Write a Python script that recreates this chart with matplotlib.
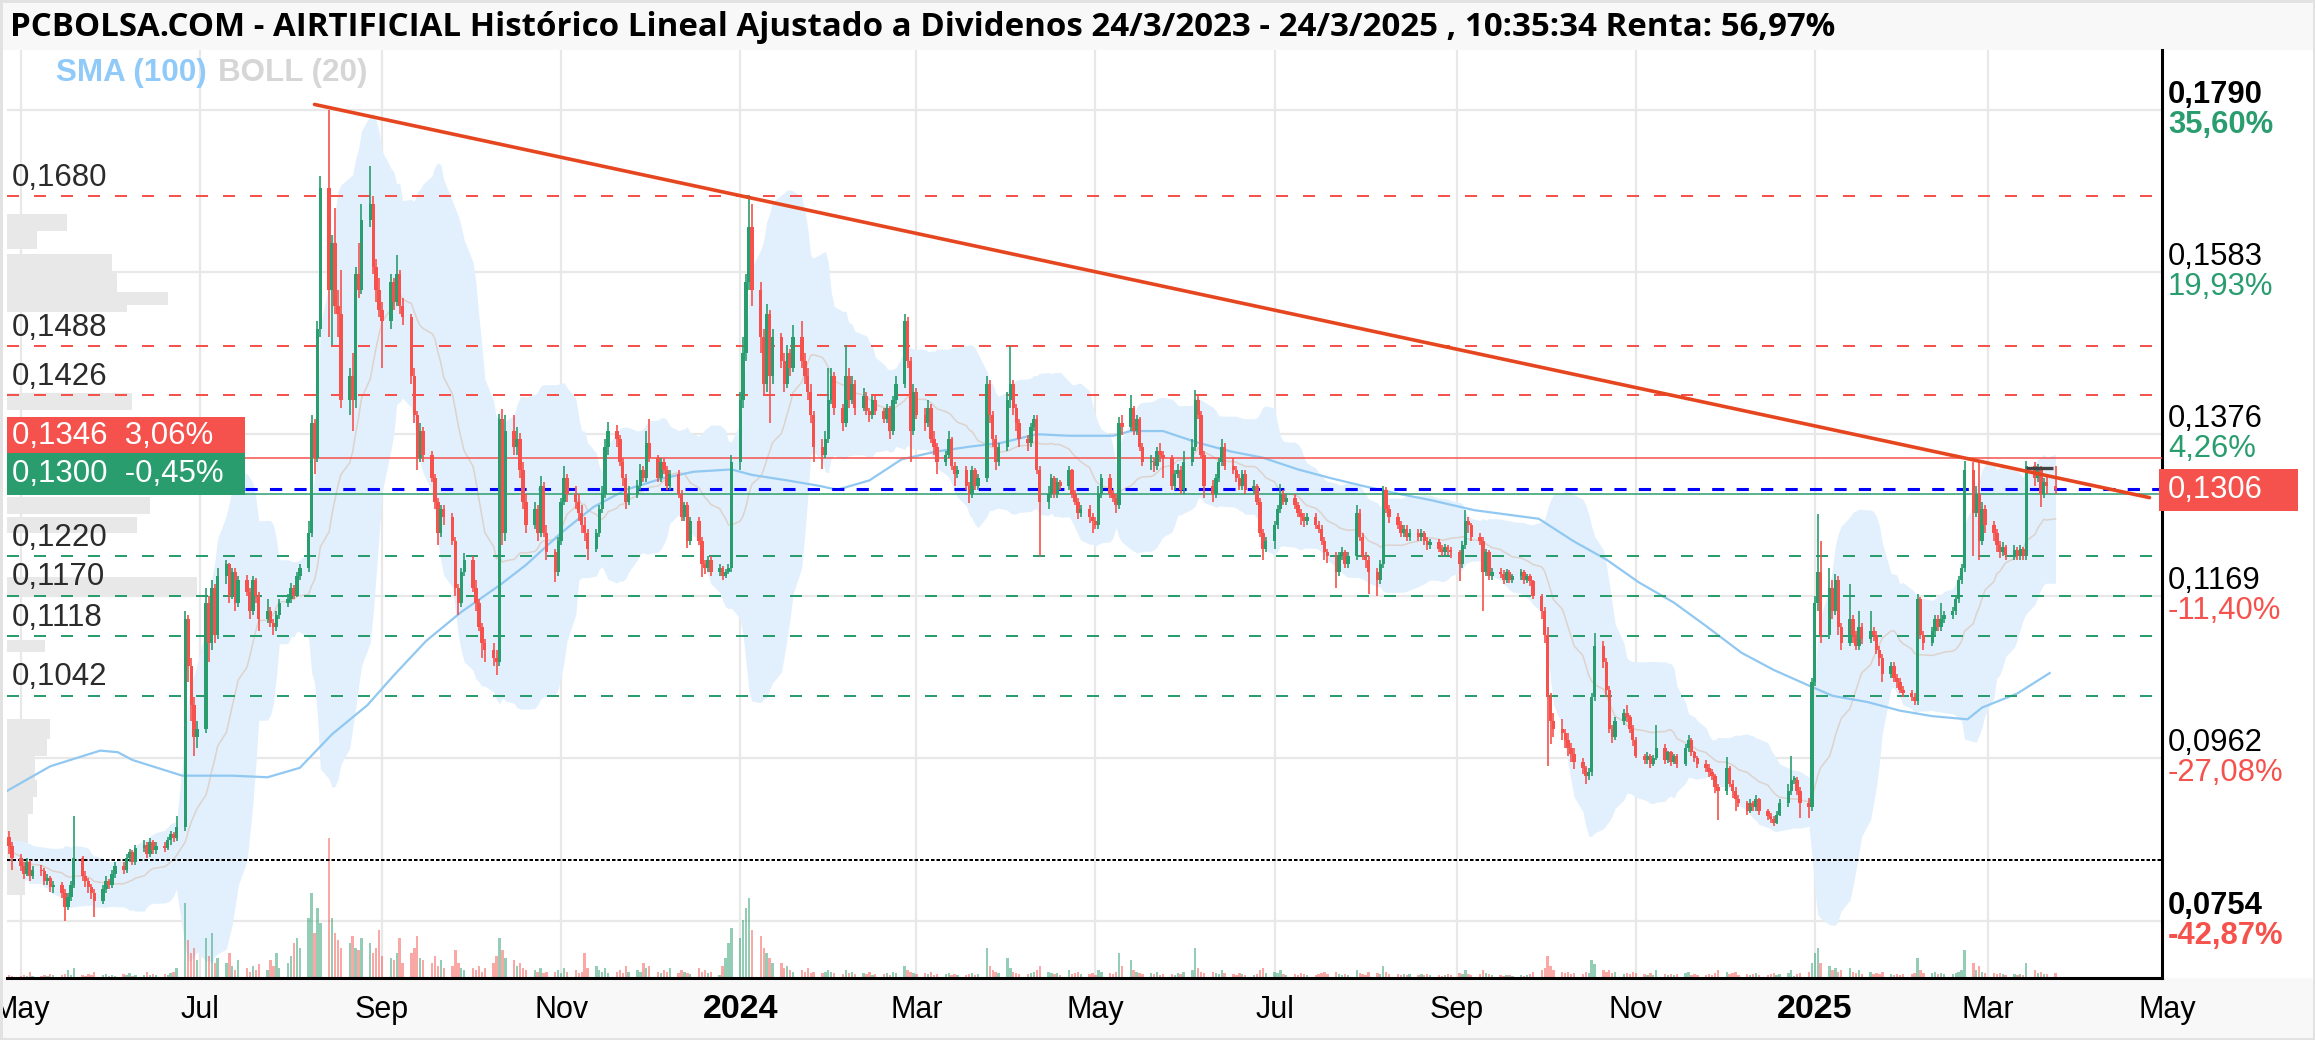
import numpy as np
import pandas as pd
import matplotlib
matplotlib.use("Agg")
import matplotlib.pyplot as plt
import matplotlib.dates as mdates
from matplotlib.patches import Rectangle
from matplotlib.transforms import blended_transform_factory as blend

plt.rcParams['font.family'] = ['Liberation Sans', 'DejaVu Sans']

# === 1. Datos diarios (precio x 10000); apertura = cierre anterior ===
open0 = 862
close = [
    850, 835,
    825, 815, 830, 812, 820,  818, 805, 810, 798, 800,  790, 772, 785, 800, 835,  812, 805, 798, 790, 780,
    795, 805, 800, 815, 825,  820, 835, 842, 830, 848,  852, 840, 855, 845, 850,  848, 858, 865, 860, 875,
    1140, 1080, 1030, 990, 1000,  1160, 1110, 1180, 1120, 1195,  1210, 1170, 1200, 1160, 1190,  1175, 1150, 1190, 1170, 1140,
    1150, 1135, 1130, 1145, 1160,  1165, 1180, 1170, 1195, 1205,  1250, 1390, 1345, 1510, 1690,  1560, 1620, 1540, 1530, 1420,
    1450, 1420, 1580, 1560, 1650,  1670, 1590, 1560, 1535, 1520,  1570, 1545, 1580, 1540, 1525,  1450, 1400, 1345, 1380, 1350,
    1320, 1290, 1250, 1280, 1270,  1240, 1180, 1160, 1200, 1215,  1180, 1160, 1130, 1110, 1100,  1090, 1085, 1395, 1250, 1380,
    1360, 1370, 1330, 1290, 1260,  1280, 1250, 1310, 1250, 1225,  1200, 1240, 1290, 1320, 1300,  1290, 1275, 1260, 1250, 1230,
    1250, 1280, 1300, 1360, 1380,  1370, 1340, 1320, 1290, 1300,  1310, 1330, 1320, 1365, 1345,  1320, 1340, 1330, 1310, 1325,
    1300, 1270, 1285, 1240, 1265,  1240, 1210, 1205, 1215, 1200,  1205, 1195, 1200, 1205, 1340,
    1420, 1480, 1570, 1640, 1560,  1500, 1440, 1530, 1450, 1500,  1470, 1440, 1480, 1460, 1500,  1470, 1450, 1430, 1400, 1360,
    1350, 1370, 1420, 1450, 1410,  1390, 1450, 1420, 1440, 1410,  1425, 1405, 1400, 1420, 1405,  1395, 1410, 1380, 1420, 1440,
    1520, 1470, 1380, 1430, 1400,  1390, 1410, 1370, 1360, 1340,  1350, 1370, 1335, 1325, 1330,  1310, 1300, 1330, 1310, 1320,
    1440, 1400, 1370, 1340, 1360,  1420, 1440, 1410, 1390, 1370,  1365, 1385, 1395, 1330, 1290,  1300, 1320, 1300, 1315, 1310,
    1330, 1300, 1290, 1275, 1280,  1270, 1265, 1260, 1300, 1320,  1300, 1295, 1285, 1390, 1385,  1410, 1380, 1395, 1360, 1340,
    1340, 1335, 1355, 1350, 1345,  1310, 1325, 1330, 1305, 1340,  1360, 1420, 1400, 1350, 1310,  1300, 1320, 1340, 1360, 1335,
    1330, 1320, 1310, 1325, 1305,  1310, 1290, 1250, 1230, 1240,  1260, 1280, 1300, 1290, 1295,  1285, 1275, 1270, 1265, 1270,
    1260, 1255, 1240, 1225, 1220,  1200, 1220, 1225, 1210, 1220,  1275, 1245, 1220, 1215, 1200,  1190, 1210, 1305, 1280, 1270,
    1260, 1250, 1255, 1245, 1250,  1245, 1250, 1240, 1235, 1238,  1230, 1225, 1232, 1228, 1225,  1210, 1235, 1265, 1260, 1245,
    1240, 1200, 1225, 1195, 1200,  1198, 1190, 1200, 1190, 1195,  1200, 1190, 1195, 1188, 1170,  1150, 1120, 1040, 1010, 1000,
    995, 985, 975, 968, 958,  950, 940, 945, 1040, 1105,  1085, 1050, 1000, 990, 1010,  1020, 1015, 1000, 985, 965,
    960, 965, 955, 963, 975,  960, 970, 958, 965, 955,  975, 985, 970, 962, 955,  950, 945, 940, 925, 920,
    950, 930, 920, 910, 905,  895, 905, 900, 910, 895,  888, 885, 880, 890, 905,  920, 935, 935, 920, 905,
    900, 1060, 1160, 1200, 1120,  1180, 1150, 1190, 1130, 1110,  1140, 1120, 1105, 1130, 1115,  1125, 1120, 1100, 1090, 1070,
    1080, 1065, 1060, 1050, 1045,  1040, 1035, 1165, 1120, 1110,  1125, 1140, 1130, 1140, 1145,  1150, 1165, 1190, 1205, 1330,
    1275, 1300, 1240, 1280, 1260,  1250, 1235, 1225, 1232, 1222,  1228, 1220, 1230, 1220, 1335,  1320, 1330, 1300, 1315, 1310,
    1306,
]
high = [
    870, 855,
    840, 830, 835, 832, 825,  826, 822, 815, 812, 806,  804, 795, 790, 806, 889,  838, 818, 810, 802, 795,
    800, 812, 808, 820, 830,  830, 840, 846, 845, 852,  858, 855, 860, 858, 855,  855, 862, 870, 868, 888,
    1150, 1145, 1090, 1040, 1010,  1180, 1170, 1190, 1185, 1205,  1216, 1212, 1205, 1205, 1195,  1196, 1180, 1195, 1192, 1175,
    1165, 1155, 1140, 1150, 1165,  1172, 1186, 1183, 1200, 1210,  1265, 1400, 1395, 1520, 1705,  1790, 1630, 1665, 1560, 1585,
    1460, 1480, 1590, 1620, 1670,  1718, 1680, 1600, 1575, 1545,  1580, 1575, 1605, 1585, 1550,  1530, 1460, 1405, 1390, 1385,
    1355, 1325, 1295, 1285, 1285,  1275, 1245, 1185, 1205, 1224,  1220, 1190, 1165, 1135, 1115,  1110, 1100, 1402, 1408, 1400,
    1400, 1385, 1378, 1340, 1300,  1290, 1285, 1322, 1315, 1260,  1230, 1245, 1295, 1335, 1325,  1310, 1300, 1285, 1270, 1255,
    1255, 1285, 1310, 1370, 1392,  1388, 1375, 1345, 1325, 1310,  1318, 1338, 1335, 1380, 1395,  1350, 1345, 1345, 1335, 1330,
    1330, 1305, 1290, 1290, 1270,  1270, 1245, 1215, 1220, 1220,  1210, 1208, 1204, 1210, 1350,
    1430, 1500, 1580, 1681, 1670,  1570, 1510, 1542, 1535, 1510,  1505, 1480, 1490, 1485, 1515,  1520, 1480, 1460, 1440, 1405,
    1370, 1380, 1460, 1460, 1455,  1415, 1490, 1460, 1450, 1445,  1435, 1430, 1410, 1425, 1425,  1410, 1415, 1412, 1425, 1450,
    1530, 1525, 1475, 1440, 1435,  1410, 1420, 1415, 1380, 1365,  1355, 1380, 1372, 1340, 1335,  1335, 1315, 1335, 1333, 1325,
    1450, 1445, 1405, 1375, 1365,  1430, 1488, 1445, 1415, 1395,  1375, 1390, 1400, 1400, 1335,  1310, 1325, 1322, 1320, 1318,
    1335, 1332, 1305, 1295, 1285,  1285, 1275, 1270, 1310, 1325,  1325, 1305, 1300, 1398, 1400,  1426, 1412, 1400, 1398, 1365,
    1350, 1345, 1360, 1365, 1355,  1350, 1330, 1338, 1335, 1355,  1370, 1433, 1425, 1405, 1355,  1318, 1325, 1345, 1370, 1365,
    1345, 1335, 1325, 1330, 1330,  1318, 1312, 1295, 1255, 1245,  1265, 1285, 1312, 1305, 1300,  1300, 1290, 1280, 1275, 1275,
    1275, 1265, 1260, 1245, 1230,  1225, 1225, 1232, 1228, 1225,  1285, 1280, 1250, 1225, 1220,  1205, 1215, 1310, 1308, 1285,
    1275, 1265, 1260, 1260, 1255,  1255, 1255, 1252, 1245, 1242,  1242, 1235, 1236, 1235, 1232,  1228, 1240, 1279, 1270, 1262,
    1250, 1245, 1230, 1228, 1205,  1205, 1202, 1204, 1202, 1198,  1204, 1202, 1198, 1198, 1190,  1172, 1155, 1130, 1045, 1020,
    1012, 1000, 995, 982, 975,  962, 952, 950, 1045, 1122,  1112, 1090, 1055, 1005, 1015,  1025, 1030, 1018, 1005, 990,
    968, 970, 968, 966, 1005,  980, 972, 972, 968, 968,  980, 992, 988, 972, 965,  960, 955, 948, 942, 930,
    964, 952, 935, 925, 915,  908, 910, 908, 915, 912,  898, 892, 888, 895, 910,  930, 965, 940, 938, 925,
    912, 1065, 1170, 1274, 1240,  1205, 1190, 1198, 1195, 1135,  1185, 1145, 1125, 1150, 1135,  1150, 1130, 1125, 1105, 1095,
    1085, 1085, 1070, 1065, 1055,  1050, 1045, 1172, 1168, 1125,  1130, 1145, 1145, 1160, 1150,  1155, 1170, 1195, 1210, 1342,
    1340, 1310, 1342, 1290, 1285,  1265, 1255, 1240, 1238, 1235,  1235, 1232, 1235, 1232, 1342,  1340, 1338, 1335, 1320, 1325,
    1335,
]
low = [
    840, 820,
    818, 808, 812, 805, 808,  812, 800, 800, 792, 790,  784, 755, 768, 780, 796,  805, 798, 790, 782, 759,
    776, 790, 795, 796, 810,  815, 816, 830, 826, 826,  842, 835, 836, 840, 840,  842, 845, 852, 855, 856,
    870, 1060, 1010, 965, 975,  995, 1085, 1100, 1110, 1115,  1185, 1160, 1165, 1150, 1155,  1170, 1140, 1145, 1160, 1125,
    1135, 1130, 1120, 1125, 1140,  1155, 1160, 1165, 1168, 1190,  1200, 1245, 1325, 1340, 1500,  1500, 1490, 1530, 1500, 1410,
    1400, 1380, 1410, 1550, 1555,  1640, 1580, 1545, 1525, 1460,  1510, 1535, 1540, 1530, 1515,  1440, 1390, 1330, 1340, 1340,
    1315, 1280, 1235, 1245, 1260,  1235, 1170, 1145, 1155, 1195,  1175, 1150, 1125, 1090, 1085,  1080, 1069, 1080, 1235, 1240,
    1350, 1350, 1320, 1280, 1250,  1255, 1240, 1245, 1245, 1215,  1187, 1195, 1235, 1285, 1290,  1280, 1265, 1250, 1240, 1216,
    1225, 1245, 1275, 1295, 1350,  1360, 1335, 1310, 1280, 1285,  1295, 1305, 1315, 1315, 1340,  1315, 1315, 1325, 1305, 1305,
    1295, 1265, 1265, 1231, 1235,  1235, 1194, 1198, 1200, 1195,  1195, 1190, 1192, 1198, 1200,
    1330, 1410, 1470, 1560, 1540,  1480, 1425, 1430, 1390, 1440,  1460, 1430, 1435, 1450, 1455,  1460, 1440, 1420, 1390, 1340,
    1331, 1345, 1365, 1415, 1400,  1380, 1385, 1410, 1415, 1400,  1405, 1400, 1392, 1395, 1400,  1390, 1390, 1370, 1375, 1415,
    1435, 1460, 1340, 1375, 1395,  1380, 1385, 1365, 1350, 1325,  1335, 1345, 1330, 1310, 1320,  1305, 1288, 1295, 1305, 1305,
    1315, 1390, 1360, 1330, 1335,  1355, 1410, 1400, 1380, 1360,  1355, 1360, 1380, 1325, 1220,  1280, 1295, 1295, 1295, 1305,
    1305, 1295, 1285, 1268, 1270,  1262, 1250, 1255, 1255, 1295,  1295, 1290, 1275, 1280, 1375,  1380, 1375, 1375, 1355, 1335,
    1330, 1328, 1330, 1340, 1320,  1305, 1305, 1320, 1300, 1300,  1335, 1355, 1395, 1345, 1295,  1290, 1295, 1315, 1335, 1330,
    1325, 1315, 1305, 1305, 1300,  1300, 1285, 1245, 1216, 1225,  1230, 1255, 1275, 1285, 1285,  1280, 1270, 1260, 1258, 1260,
    1255, 1250, 1235, 1216, 1212,  1180, 1195, 1215, 1205, 1205,  1215, 1240, 1215, 1205, 1172,  1170, 1185, 1205, 1275, 1262,
    1255, 1245, 1245, 1240, 1240,  1240, 1240, 1235, 1228, 1230,  1225, 1220, 1222, 1222, 1218,  1188, 1205, 1230, 1250, 1240,
    1235, 1150, 1195, 1190, 1190,  1192, 1185, 1186, 1186, 1186,  1190, 1185, 1186, 1182, 1165,  1140, 1110, 952, 980, 990,
    985, 975, 965, 958, 948,  942, 930, 935, 940, 1035,  1078, 1040, 995, 982, 985,  1005, 1008, 995, 978, 962,
    955, 955, 950, 952, 960,  955, 956, 952, 955, 950,  952, 970, 965, 958, 950,  945, 938, 935, 918, 883,
    915, 925, 912, 895, 900,  890, 892, 895, 895, 890,  884, 880, 876, 878, 888,  900, 915, 930, 915, 886,
    886, 895, 1055, 1150, 1110,  1115, 1140, 1145, 1120, 1100,  1105, 1110, 1100, 1100, 1108,  1110, 1112, 1095, 1080, 1060,
    1065, 1060, 1052, 1045, 1040,  1035, 1030, 1030, 1115, 1100,  1105, 1120, 1125, 1125, 1135,  1140, 1145, 1160, 1185, 1200,
    1220, 1270, 1215, 1235, 1250,  1240, 1225, 1218, 1220, 1215,  1215, 1215, 1216, 1215, 1215,  1310, 1315, 1283, 1295, 1300,
    1300,
]
# volumen (unidades relativas)
volume = [
    3, 2,
    2, 3, 2, 6, 2,  2, 3, 2, 4, 3,  3, 4, 8, 3, 10,  3, 2, 4, 3, 6,
    3, 4, 2, 3, 2,  4, 3, 5, 2, 3,  3, 6, 3, 4, 3,  4, 3, 5, 6, 10,
    75, 38, 25, 30, 18,  40, 22, 45, 15, 20,  15, 25, 12, 8, 18,  10, 6, 12, 8, 14,
    8, 18, 12, 25, 10,  15, 22, 35, 40, 30,  60, 85, 45, 70, 55,  140, 60, 45, 38, 30,
    35, 42, 30, 28, 40,  35, 25, 30, 48, 22,  20, 18, 25, 40, 15,  25, 30, 42, 20, 18,
    15, 22, 12, 18, 10,  12, 28, 15, 10, 8,  10, 8, 12, 6, 10,  15, 22, 40, 28, 20,
    18, 12, 15, 10, 8,  8, 6, 10, 5, 6,  6, 8, 5, 10, 6,  8, 5, 6, 25, 10,
    12, 8, 6, 10, 5,  6, 8, 5, 12, 6,  8, 6, 15, 10, 12,  6, 5, 8, 6, 10,
    5, 8, 6, 5, 4,  10, 6, 8, 5, 6,  3, 12, 20, 35, 50,
    40, 58, 70, 80, 48,  42, 30, 25, 20, 15,  15, 10, 12, 8, 6,  8, 6, 10, 5, 6,
    5, 6, 8, 6, 5,  4, 8, 5, 6, 4,  5, 4, 6, 3, 4,  4, 5, 3, 6, 5,
    12, 8, 6, 5, 4,  5, 4, 6, 3, 4,  4, 5, 3, 4, 3,  3, 4, 5, 3, 4,
    30, 12, 8, 6, 5,  20, 10, 6, 5, 4,  4, 5, 6, 8, 12,  6, 5, 4, 5, 3,
    8, 4, 5, 6, 4,  4, 5, 3, 8, 6,  5, 4, 6, 25, 12,  18, 8, 6, 5, 4,
    5, 4, 6, 3, 4,  4, 3, 5, 4, 6,  8, 30, 10, 6, 5,  6, 5, 4, 8, 5,
    4, 3, 5, 4, 3,  3, 4, 8, 10, 5,  6, 5, 8, 4, 3,  4, 3, 5, 4, 3,
    3, 4, 5, 6, 4,  6, 4, 3, 4, 3,  8, 5, 4, 3, 6,  5, 4, 12, 6, 4,
    4, 3, 4, 3, 4,  3, 4, 3, 4, 3,  3, 2, 3, 4, 3,  5, 4, 8, 4, 3,
    4, 8, 5, 4, 3,  3, 2, 3, 3, 2,  3, 2, 3, 4, 6,  8, 10, 22, 12, 8,
    6, 5, 6, 4, 5,  4, 6, 5, 18, 14,  8, 6, 8, 5, 6,  4, 5, 4, 6, 5,
    4, 3, 5, 3, 8,  4, 3, 4, 3, 4,  5, 6, 3, 4, 3,  3, 4, 3, 5, 8,
    6, 4, 5, 6, 3,  4, 3, 4, 5, 3,  3, 4, 5, 3, 4,  5, 8, 2, 4, 5,
    6, 15, 25, 30, 15,  12, 8, 10, 6, 8,  10, 6, 5, 8, 4,  6, 4, 5, 4, 6,
    4, 3, 4, 3, 4,  4, 5, 20, 8, 5,  5, 6, 4, 5, 4,  4, 5, 6, 8, 28,
    15, 8, 12, 6, 5,  5, 4, 5, 4, 3,  4, 3, 4, 3, 15,  8, 5, 6, 4, 4,
    5,
]

# === 2. SMA (100) ===
sma_dates = ['2023-04-26', '2023-05-11', '2023-05-28', '2023-06-03', '2023-06-08', '2023-06-25',
             '2023-07-12', '2023-07-24', '2023-08-04', '2023-08-15', '2023-08-27', '2023-09-05',
             '2023-09-16', '2023-09-28', '2023-10-11', '2023-10-20', '2023-11-01', '2023-11-12',
             '2023-11-23', '2023-12-05', '2023-12-16', '2023-12-29', '2024-01-05', '2024-01-17',
             '2024-01-28', '2024-02-03', '2024-02-14', '2024-02-25', '2024-03-08', '2024-03-19',
             '2024-03-30', '2024-04-11', '2024-04-22', '2024-05-07', '2024-05-13', '2024-05-24',
             '2024-06-05', '2024-06-16', '2024-06-27', '2024-07-09', '2024-07-20', '2024-07-31',
             '2024-08-12', '2024-08-23', '2024-09-07', '2024-09-29', '2024-10-11', '2024-10-22',
             '2024-11-02', '2024-11-14', '2024-11-25', '2024-12-07', '2024-12-18', '2024-12-30',
             '2025-01-07', '2025-01-19', '2025-01-30', '2025-02-10', '2025-02-22', '2025-02-27',
             '2025-03-11', '2025-03-22']
sma_vals = [0.0920, 0.0952, 0.0972, 0.0970, 0.0960, 0.0940, 0.0940, 0.0938, 0.0950, 0.0993,
            0.1030, 0.1068, 0.1112, 0.1149, 0.1183, 0.1209, 0.1250, 0.1283, 0.1305, 0.1319,
            0.1328, 0.1331, 0.1324, 0.1317, 0.1310, 0.1305, 0.1317, 0.1344, 0.1354, 0.1360,
            0.1365, 0.1376, 0.1374, 0.1374, 0.1380, 0.1380, 0.1365, 0.1354, 0.1346, 0.1331,
            0.1320, 0.1310, 0.1300, 0.1292, 0.1279, 0.1268, 0.1239, 0.1216, 0.1187, 0.1161,
            0.1131, 0.1097, 0.1075, 0.1055, 0.1042, 0.1034, 0.1023, 0.1016, 0.1012, 0.1027,
            0.1045, 0.1071]

# === 3. Niveles ===
resist_levels = [0.1680, 0.1488, 0.1426]
support_levels = [0.1220, 0.1170, 0.1118, 0.1042]
level_red, level_red_pct = 0.1346, '3,06%'
level_green, level_green_pct = 0.1300, '-0,45%'
last_price = 0.1306
start_price = 0.0832
axis_levels = [0.1790, 0.1583, 0.1376, 0.1169, 0.0962, 0.0754]
axis_pcts = ['35,60%', '19,93%', '4,26%', '-11,40%', '-27,08%', '-42,87%']
trend_dates = ['2023-08-09', '2025-04-25']
trend_prices = [0.1797, 0.1295]
marker_dates = ['2025-03-14', '2025-03-23']
marker_price = 0.1333

# perfil de volumen (izquierda): precio bajo, precio alto, longitud relativa
prof_lo = [0.16354, 0.16124, 0.15830, 0.15575, 0.15409, 0.15320, 0.14069, 0.12741, 0.12498, 0.11681,
           0.10979, 0.09869, 0.09652, 0.09345, 0.09128, 0.08911, 0.08541, 0.07877]
prof_hi = [0.16571, 0.16354, 0.16060, 0.15830, 0.15575, 0.15409, 0.14286, 0.12958, 0.12703, 0.11937,
           0.11132, 0.10124, 0.09869, 0.09652, 0.09345, 0.09128, 0.08911, 0.08541]
prof_len = [60, 30, 105, 110, 161, 120, 125, 143, 130, 190, 38, 43, 40, 28, 30, 26, 21, 18]

months = ['2023-05-01', '2023-07-01', '2023-09-01', '2023-11-01', '2024-01-01', '2024-03-01', '2024-05-01',
          '2024-07-01', '2024-09-01', '2024-11-01', '2025-01-01', '2025-03-01', '2025-05-01']
month_labels = ['May', 'Jul', 'Sep', 'Nov', '2024', 'Mar', 'May', 'Jul', 'Sep', 'Nov', '2025', 'Mar', 'May']

title = ('PCBOLSA.COM - AIRTIFICIAL Histórico Lineal Ajustado a Dividenos 24/3/2023 - 24/3/2025 , '
         '10:35:34 Renta: 56,97%')

GREEN = '#2a9d6f'
RED = '#f5524d'

# === 4. Figura ===
W, H = 2315, 1040
AX_L, AX_R, AX_T, AX_B = 7, 2161.7, 50, 978
fig = plt.figure(figsize=(W / 100, H / 100), dpi=100)
fig.patches.append(Rectangle((0, 1 - AX_T / H), 1, AX_T / H, transform=fig.transFigure,
                             facecolor='#f8f8f8', edgecolor='none', zorder=-5))
fig.patches.append(Rectangle((0, 0), 1, (H - AX_B) / H, transform=fig.transFigure,
                             facecolor='#f8f8f8', edgecolor='none', zorder=-5))
ax = fig.add_axes([AX_L / W, 1 - AX_B / H, (AX_R - AX_L) / W, (AX_B - AX_T) / H])

ymin, ymax = 0.06817, 0.18665
ppp = (AX_B - AX_T) / (ymax - ymin)          # pixeles por unidad de precio
px_day = 2.936
x0 = mdates.date2num(pd.Timestamp('2023-07-01'))
xmin, xmax = x0 - (200 - AX_L) / px_day, x0 + (AX_R - 200) / px_day
ax.set_xlim(xmin, xmax)
ax.set_ylim(ymin, ymax)

dates = pd.bdate_range('2023-04-27', '2025-03-24')
x = mdates.date2num(dates)
c = np.array(close) / 1e4
o = np.r_[open0, close[:-1]] / 1e4
h = np.maximum(np.array(high) / 1e4, np.maximum(o, c))
l = np.minimum(np.array(low) / 1e4, np.minimum(o, c))
col = np.where(c >= o, GREEN, RED)

# rejilla
for lv in axis_levels:
    ax.axhline(lv, color='#e8e8e8', lw=1.6, zorder=0)
for m in months:
    mx = mdates.date2num(pd.Timestamp(m))
    if xmin < mx < xmax:
        ax.axvline(mx, color='#e8e8e8', lw=1.6, zorder=0)

# perfil de volumen
for lo, hi, ln in zip(prof_lo, prof_hi, prof_len):
    ax.add_patch(Rectangle((xmin, lo), ln / px_day, hi - lo, facecolor='#e8e8e8',
                           edgecolor='none', zorder=0.5))

# Bollinger (20, 2) sobre los cierres
s = pd.Series(c)
mid = s.rolling(20, min_periods=1).mean()
sd = s.rolling(20, min_periods=1).std(ddof=0).fillna(0)
ax.fill_between(x, mid - 2 * sd, mid + 2 * sd, color='#e1f0fc', lw=0, zorder=1)
ax.plot(x, mid, color='#ddd2cc', lw=1.1, zorder=1.5)

# SMA 100
ax.plot(mdates.date2num(pd.to_datetime(sma_dates)), sma_vals, color='#90c8f2', lw=1.6, zorder=2)

# volumen
ax.bar(x, np.array(volume) / ppp, bottom=ymin, width=0.8, color=col, alpha=0.5, lw=0, zorder=2)

# niveles
for lv in resist_levels:
    ax.axhline(lv, color=RED, lw=1.44, ls=(0, (6, 7.5)), zorder=3)
for lv in support_levels:
    ax.axhline(lv, color=GREEN, lw=1.44, ls=(0, (6, 7.5)), zorder=3)
ax.axhline(start_price, color='black', lw=1.44, ls=(0, (1.75, 1.0)), zorder=3)
box_r = xmin + (245 - AX_L) / px_day
ax.hlines(level_red, box_r, xmax, color=RED, lw=1.1, zorder=3)
ax.hlines(level_green, box_r, xmax, color=GREEN, lw=1.1, zorder=3)
ax.hlines(last_price, box_r, xmax, color='#0000ff', lw=2.2, ls=(0, (4, 4)), zorder=3)

# velas
ax.vlines(x, l, h, colors=col, lw=1.2, zorder=4)
ax.bar(x, np.maximum(np.abs(c - o), 1.5 / ppp), bottom=np.minimum(o, c), width=1.15,
       color=col, lw=0, zorder=4)
ax.plot(mdates.date2num(pd.to_datetime(marker_dates)), [marker_price] * 2, color='#444444',
        lw=2.4, solid_capstyle='butt', zorder=4.5)

# linea de tendencia
ax.plot(mdates.date2num(pd.to_datetime(trend_dates)), trend_prices, color='#e6461f', lw=2.6,
        zorder=5, solid_capstyle='round')

# ejes
for side in ['left', 'top']:
    ax.spines[side].set_visible(False)
for side in ['right', 'bottom']:
    ax.spines[side].set_linewidth(2.2)
    ax.spines[side].set_color('black')
ax.set_xticks([])
ax.set_yticks([])

# etiquetas de meses
tr_x = blend(ax.transData, ax.transAxes)
for m, lab in zip(months, month_labels):
    bold = lab.isdigit()
    ax.text(mdates.date2num(pd.Timestamp(m)), -0.034, lab, transform=tr_x, ha='center', va='center',
            fontsize=24.5 if bold else 22, fontweight='bold' if bold else 'normal',
            color='black', clip_on=False)

# etiquetas de niveles (izquierda)
for lv in resist_levels + support_levels:
    ax.annotate(f'{lv:.4f}'.replace('.', ','), (xmin, lv), xytext=(3.5, 2.5),
                textcoords='offset points', ha='left', va='bottom', fontsize=22.5,
                color='#2b2b2b', zorder=6)

# cajas izquierda
fig.patches.append(Rectangle((AX_L / W, 1 - 453 / H), 238 / W, 36 / H, transform=fig.transFigure,
                             facecolor=RED, edgecolor='none', zorder=6))
fig.patches.append(Rectangle((AX_L / W, 1 - 495 / H), 238 / W, 42 / H, transform=fig.transFigure,
                             facecolor=GREEN, edgecolor='none', zorder=6))
fig.text(12 / W, 1 - 436 / H, f'{level_red:.4f}'.replace('.', ',') + '  ' + level_red_pct,
         color='white', fontsize=22.5, va='center', ha='left', zorder=7)
fig.text(12 / W, 1 - 474 / H, f'{level_green:.4f}'.replace('.', ',') + '  ' + level_green_pct,
         color='white', fontsize=22.5, va='center', ha='left', zorder=7)

# etiquetas eje derecho
tr_r = blend(fig.transFigure, ax.transData)
for i, (lv, pc) in enumerate(zip(axis_levels, axis_pcts)):
    bold = i in (0, len(axis_levels) - 1)
    ax.annotate(f'{lv:.4f}'.replace('.', ','), (2168 / W, lv), xycoords=tr_r, xytext=(0, 10.8),
                textcoords='offset points', ha='left', va='center', fontsize=22.3,
                fontweight='bold' if bold else 'normal', color='black', annotation_clip=False)
    ax.annotate(pc, (2168 / W, lv), xycoords=tr_r, xytext=(0, -10.8), textcoords='offset points',
                ha='left', va='center', fontsize=22.3, fontweight='bold' if bold else 'normal',
                color=GREEN if not pc.startswith('-') else RED, annotation_clip=False)

# caja precio actual (derecha)
fig.patches.append(Rectangle((2159 / W, 1 - 511 / H), 139 / W, 42 / H, transform=fig.transFigure,
                             facecolor=RED, edgecolor='none', zorder=6))
fig.text(2168 / W, 1 - 490 / H, f'{last_price:.4f}'.replace('.', ','), color='white', fontsize=22.3,
         va='center', ha='left', zorder=7)

# leyenda de indicadores
fig.text(56 / W, 1 - 73 / H, 'SMA (100)', color='#90caf9', fontsize=22.6, fontweight='bold',
         va='center', ha='left')
fig.text(218 / W, 1 - 73 / H, 'BOLL (20)', color='#d6d6d6', fontsize=22.6, fontweight='bold',
         va='center', ha='left')

# titulo
t = fig.text(10 / W, 1 - 27 / H, title, fontsize=20, fontweight='bold', family='Open Sans',
             va='center', ha='left', color='black')
fig.canvas.draw()
tw = t.get_window_extent().width
t.set_fontsize(20 * 1825 / tw)

# marco
fig.patches.append(Rectangle((0, 0), 1, 1, transform=fig.transFigure, fill=False,
                             edgecolor='#e2e2e2', lw=3.6, zorder=10))

fig.savefig('out.png', dpi=100)
